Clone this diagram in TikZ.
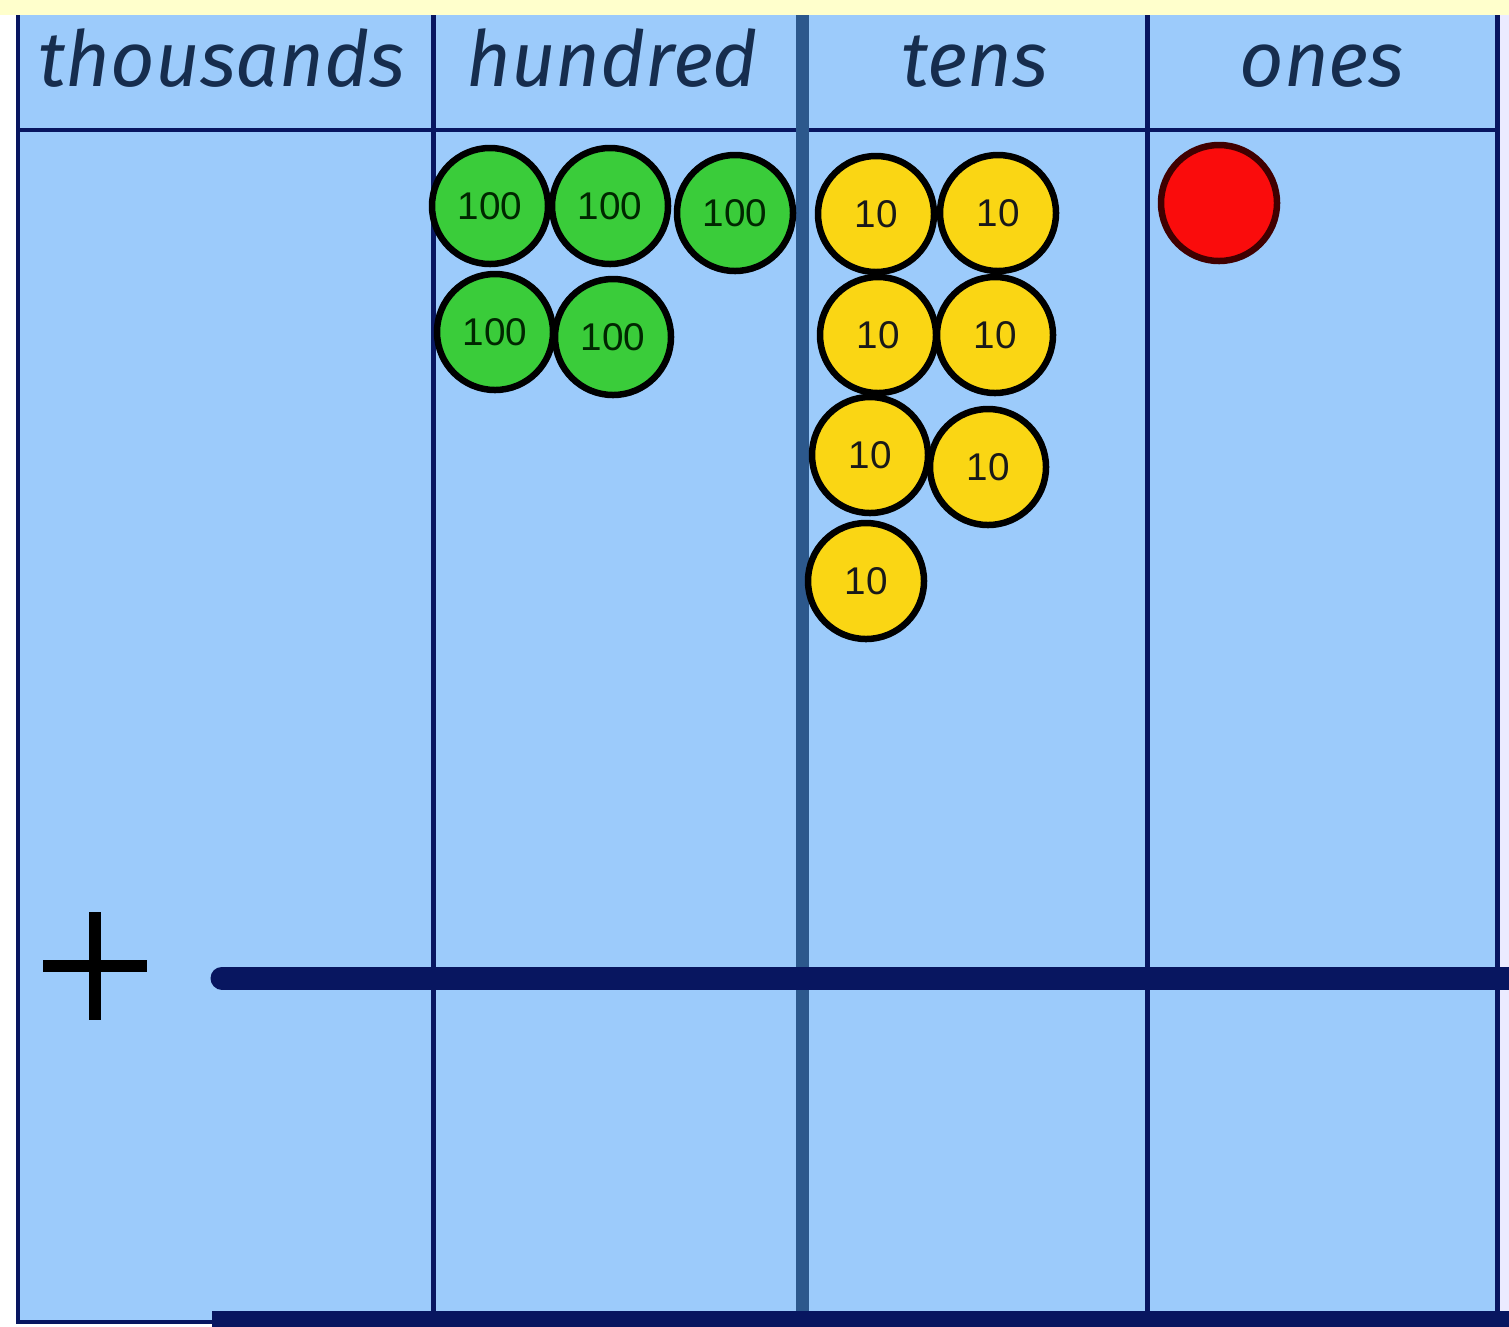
\documentclass[tikz,border=0pt]{standalone}
\usepackage{fontspec}
\setmainfont{Liberation Sans}
\newfontfamily\headfont{Fira Sans}
\usepackage{tikz}
\usetikzlibrary{positioning}
\definecolor{cellblue}{RGB}{156,203,251}
\definecolor{bandyellow}{RGB}{255,255,204}
\definecolor{gridnavy}{RGB}{8,22,96}
\definecolor{midsteel}{RGB}{44,88,140}
\definecolor{headink}{RGB}{22,45,78}
\definecolor{hundredgreen}{RGB}{58,204,58}
\definecolor{tenyellow}{RGB}{250,214,20}
\definecolor{onered}{RGB}{250,12,12}

\begin{document}
\begin{tikzpicture}[x=0.1mm,y=-0.1mm,
    heading/.style={font=\headfont\itshape\fontsize{22}{22}\selectfont,text=headink,anchor=base},
    coin/.style={circle,draw=black,line width=0.65mm,minimum size=11.6mm,inner sep=0pt,
      font=\fontsize{11}{11}\selectfont},
    hundredcoin/.style={coin,fill=hundredgreen,text=green!15!black},
    tencoin/.style={coin,fill=tenyellow,text=black!90},
    onecoin/.style={coin,fill=onered,draw=red!25!black}]
  \useasboundingbox (0,0) rectangle (1509,1326);
  % background
  \fill[white] (0,0) rectangle (1509,1326);
  \fill[blue!8] (1498,15) rectangle (1509,1326);
  \fill[bandyellow] (0,0) rectangle (1509,15);
  \fill[cellblue] (18,15) rectangle (1497,1322);
  % grid
  \draw[gridnavy,line width=0.45mm] (18,15) -- (18,1322) -- (215,1322);
  \draw[gridnavy,line width=0.45mm] (18,130) -- (1497,130);
  \draw[gridnavy,line width=0.5mm] (433,15) -- (433,1326);
  \draw[midsteel,line width=1.3mm] (802,15) -- (802,1326);
  \draw[gridnavy,line width=0.5mm] (1147,15) -- (1147,1326);
  \draw[gridnavy,line width=0.5mm] (1497,15) -- (1497,1326);
  \draw[gridnavy,line width=2.3mm,line cap=round] (222,978) -- (1520,978);
  \draw[gridnavy,line width=1.6mm] (212,1319) -- (1509,1319);
  % plus sign
  \draw[black,line width=1.2mm] (95,912) -- (95,1020);
  \draw[black,line width=1.2mm] (43,966) -- (147,966);
  % headings
  \node[heading] (thousands) at (222,86) {thousands};
  \node[heading] (hundred) at (612,86) {hundred};
  \node[heading] (tens) at (975,86) {tens};
  \node[heading] (ones) at (1322,86) {ones};
  % hundreds
  \node[hundredcoin] (h1) at (490,206) {100};
  \node[hundredcoin] (h2) at (610,206) {100};
  \node[hundredcoin] (h3) at (735,213) {100};
  \node[hundredcoin] (h4) at (495,332) {100};
  \node[hundredcoin] (h5) at (613,337) {100};
  % tens
  \node[tencoin] (t1) at (876,214) {10};
  \node[tencoin] (t2) at (998,213) {10};
  \node[tencoin] (t3) at (878,335) {10};
  \node[tencoin] (t4) at (995,335) {10};
  \node[tencoin] (t5) at (870,455) {10};
  \node[tencoin] (t6) at (988,467) {10};
  \node[tencoin] (t7) at (866,581) {10};
  % ones
  \node[onecoin] (o1) at (1219,203) {};
\end{tikzpicture}
\end{document}
